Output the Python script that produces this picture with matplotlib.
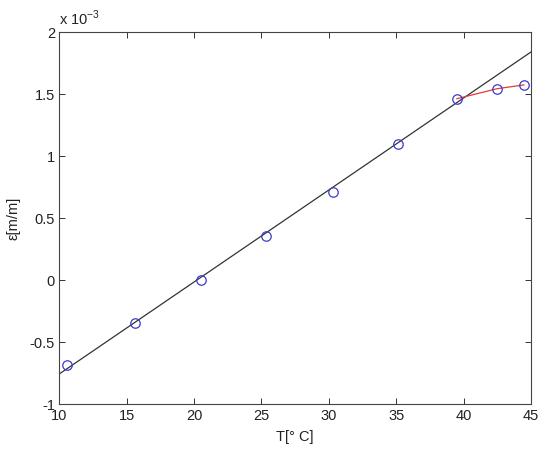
import matplotlib
matplotlib.use("Agg")
import matplotlib.pyplot as plt
from matplotlib.ticker import FuncFormatter

plt.rcParams['font.family'] = ['Liberation Sans', 'DejaVu Sans']
plt.rcParams['axes.unicode_minus'] = False

# Measured data (strain in units of 1e-3)
temp = [10.55, 15.59, 20.5, 25.32, 30.31, 35.11, 39.5, 42.5, 44.47]
eps = [-0.684, -0.345, 0.004, 0.359, 0.716, 1.10, 1.466, 1.547, 1.577]

# Linear fit line
fit_t = [10, 45]
fit_eps = [-0.754, 1.843]

# Deviating segment (red)
dev_t = [39.5, 42.5, 44.47]
dev_eps = [1.466, 1.547, 1.577]

xticks = [10, 15, 20, 25, 30, 35, 40, 45]
yticks = [-1, -0.5, 0, 0.5, 1, 1.5, 2]

fig = plt.figure(figsize=(5.5, 4.53), dpi=100)
ax = fig.add_axes([0.1078, 0.1071, 0.8577, 0.8212])

ax.plot(fit_t, fit_eps, color='#333333', lw=0.9, zorder=2)
ax.plot(dev_t, dev_eps, color='#e03a3a', lw=0.9, zorder=2)
ax.plot(temp, eps, linestyle='none', marker='o', markersize=6.8,
        markerfacecolor='none', markeredgecolor='#3a3ad0', markeredgewidth=0.9, zorder=3)

ax.set_xlim(10, 45)
ax.set_ylim(-1, 2)
ax.set_xticks(xticks)
ax.set_yticks(yticks)
ax.yaxis.set_major_formatter(FuncFormatter(lambda v, p: '%g' % v))
ax.xaxis.set_major_formatter(FuncFormatter(lambda v, p: '%g' % v))
ax.tick_params(direction='in', top=True, right=True, length=4, width=0.7,
               labelsize=10.5, colors='#333333', labelcolor='#222222', pad=3)
for s in ax.spines.values():
    s.set_color('#444444')
    s.set_linewidth(0.8)

ax.set_xlabel('T[° C]', fontsize=10.5, color='#222222', labelpad=5)
ax.set_ylabel('ε[m/m]', fontsize=10.5, color='#222222', labelpad=7)
ax.text(0.0, 1.012, 'x 10$^{\\mathregular{-3}}$', transform=ax.transAxes,
        fontsize=10.5, color='#222222', ha='left', va='bottom')

fig.savefig('out.png', dpi=100)
